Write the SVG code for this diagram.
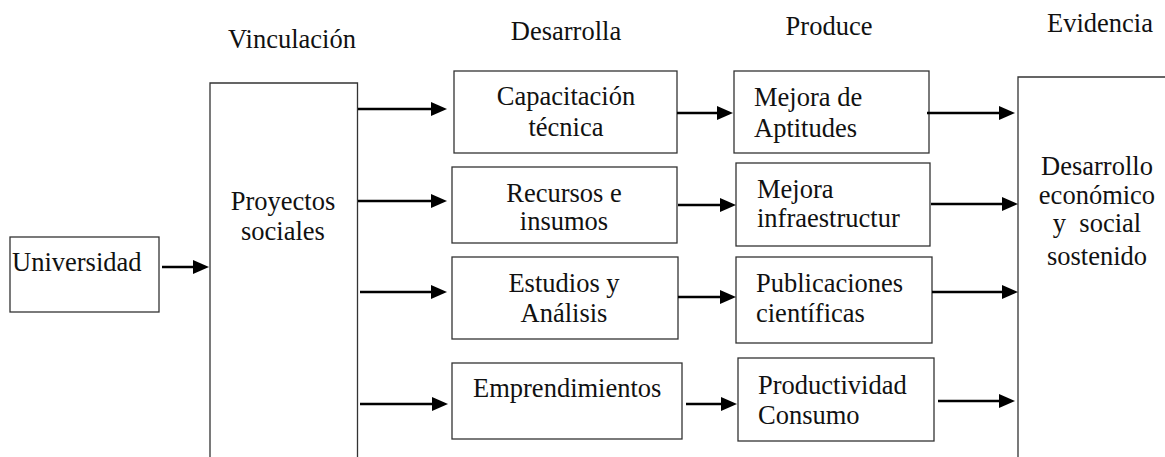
<svg xmlns="http://www.w3.org/2000/svg" width="1165" height="457" viewBox="0 0 1165 457">
  <style>
    .box { fill: #ffffff; stroke: #333333; stroke-width: 1.3; }
    .arr { stroke: #000000; stroke-width: 2.7; fill: none; marker-end: url(#ah); }
    text { font-family: "Times New Roman", "Liberation Serif", serif; font-size: 26.5px; fill: #111111; }
    .c { text-anchor: middle; }
  </style>
  <defs>
    <marker id="ah" markerUnits="userSpaceOnUse" viewBox="0 0 16 14" markerWidth="16" markerHeight="14" refX="2" refY="7" orient="auto">
      <path d="M0,0 L16,7 L0,14 z" fill="#000000"/>
    </marker>
  </defs>

  <g id="headers">
    <text class="c" x="292" y="48">Vinculación</text>
    <text class="c" x="566" y="40">Desarrolla</text>
    <text class="c" x="829" y="35">Produce</text>
    <text class="c" x="1100" y="32">Evidencia</text>
  </g>

  <g id="universidad">
    <rect class="box" x="10" y="237" width="149" height="75"/>
    <text x="12" y="271">Universidad</text>
  </g>

  <g id="proyectos">
    <path class="box" d="M210,458 L210,83 L357.5,83 L357.5,458"/>
    <text class="c" x="283" y="210">Proyectos</text>
    <text class="c" x="283" y="240">sociales</text>
  </g>

  <g id="capacitacion">
    <rect class="box" x="454" y="71" width="223" height="82"/>
    <text class="c" x="566" y="105">Capacitación</text>
    <text class="c" x="566" y="136">técnica</text>
  </g>
  <g id="recursos">
    <rect class="box" x="452" y="167" width="225" height="76"/>
    <text class="c" x="564" y="202">Recursos e</text>
    <text class="c" x="564" y="230">insumos</text>
  </g>
  <g id="estudios">
    <rect class="box" x="452" y="257" width="226" height="82"/>
    <text class="c" x="564" y="292">Estudios y</text>
    <text class="c" x="564" y="322">Análisis</text>
  </g>
  <g id="emprendimientos">
    <rect class="box" x="452" y="363" width="230" height="76"/>
    <text x="473" y="397">Emprendimientos</text>
  </g>

  <g id="mejora-aptitudes">
    <rect class="box" x="734" y="71" width="195" height="82"/>
    <text x="754" y="106">Mejora de</text>
    <text x="754" y="137">Aptitudes</text>
  </g>
  <g id="mejora-infra">
    <rect class="box" x="736" y="163" width="194" height="83"/>
    <text x="757" y="198">Mejora</text>
    <text x="757" y="227">infraestructur</text>
  </g>
  <g id="publicaciones">
    <rect class="box" x="736" y="257" width="196" height="86"/>
    <text x="756" y="292">Publicaciones</text>
    <text x="756" y="322">científicas</text>
  </g>
  <g id="productividad">
    <rect class="box" x="738" y="358" width="196" height="83"/>
    <text x="758" y="394">Productividad</text>
    <text x="758" y="424">Consumo</text>
  </g>

  <g id="evidencia">
    <path class="box" d="M1018,458 L1018,77 L1166,77"/>
    <text class="c" x="1097" y="175">Desarrollo</text>
    <text class="c" x="1097" y="204">económico</text>
    <text class="c" x="1097" y="232">y&#160; social</text>
    <text class="c" x="1097" y="265">sostenido</text>
  </g>

  <g id="connectors">
    <line class="arr" x1="162" y1="267" x2="195" y2="267"/>
    <line class="arr" x1="358" y1="109" x2="433" y2="109"/>
    <line class="arr" x1="358" y1="201" x2="433" y2="201"/>
    <line class="arr" x1="360" y1="292" x2="433" y2="292"/>
    <line class="arr" x1="360" y1="404" x2="434" y2="404"/>
    <line class="arr" x1="677" y1="113" x2="719" y2="113"/>
    <line class="arr" x1="678" y1="205" x2="722" y2="205"/>
    <line class="arr" x1="678" y1="297" x2="722" y2="297"/>
    <line class="arr" x1="686" y1="404" x2="723" y2="404"/>
    <line class="arr" x1="927" y1="113" x2="1001" y2="113"/>
    <line class="arr" x1="931" y1="204" x2="1004" y2="204"/>
    <line class="arr" x1="932" y1="292" x2="1004" y2="292"/>
    <line class="arr" x1="938" y1="401" x2="1001" y2="401"/>
  </g>
</svg>
